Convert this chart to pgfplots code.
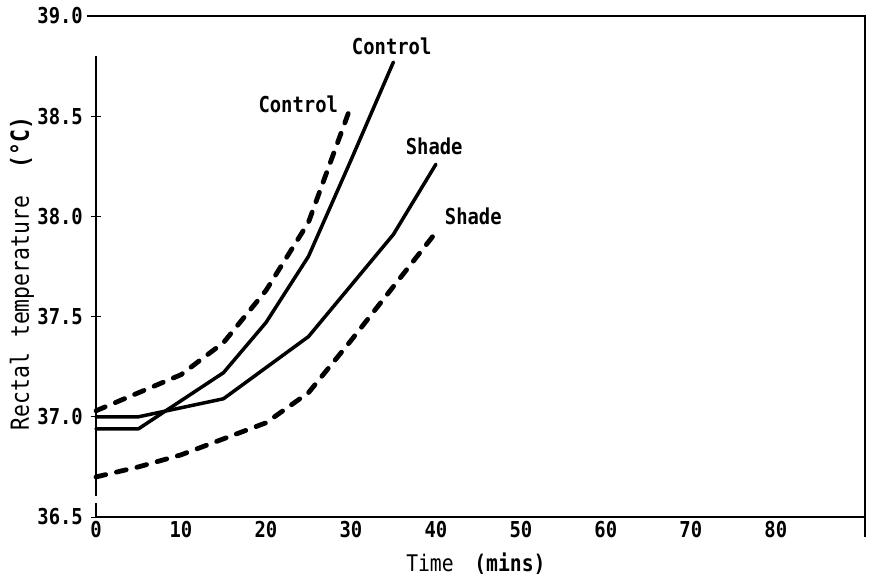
\documentclass[border=0pt]{standalone}
\usepackage{pgfplots}
\pgfplotsset{compat=1.18}
\usepackage{fontspec}
\setmainfont{DejaVu Sans Mono}[FakeStretch=0.86]
\newcommand{\fs}{\fontsize{22}{24}\selectfont}
\begin{document}
\begin{tikzpicture}
\begin{axis}[
  scale only axis, width=769bp, height=501bp,
  xmin=0, xmax=90.5, ymin=36.5, ymax=39,
  clip=false,
  axis x line=bottom, axis y line=left,
  axis line style={-},
  x axis line style={line width=1.8bp},
  y axis line style={draw=none},
  xtick={0,10,20,30,40,50,60,70,80},
  xticklabels={0,10,20,30,40,50,60,70,80},
  ytick={36.5,37,37.5,38,38.5,39},
  yticklabels={36.5,37.0,37.5,38.0,38.5,39.0},
  ticklabel style={font=\fs\bfseries},
  yticklabel style={inner sep=0pt, anchor=east, xshift=-8bp},
  xticklabel style={inner sep=0pt, anchor=north, yshift=1bp},
  ytick align=center,
  xtick style={draw=none},
  ytick style={line width=1bp, black},
  major tick length=10bp,
  every axis y label/.style={at={(axis description cs:-0.0962,0.486)}, rotate=90, anchor=center, font=\fontsize{25}{27}\selectfont},
  every axis x label/.style={at={(axis description cs:0.494,-0.094)}, anchor=center, font=\fontsize{23}{25}\selectfont},
  ylabel={Rectal\hspace{0.6em}temperature\hspace{1.1em}\textbf{(°C)}},
  xlabel={Time\hspace{0.9em}\textbf{(mins)}},
]
% Control, solid
\addplot[black, line width=3.5bp, line cap=round, line join=round] coordinates {
  (0,36.94) (5,36.94) (15,37.22) (20,37.47) (25,37.8) (30,38.28) (35,38.77)};
% Shade, solid
\addplot[black, line width=3.5bp, line cap=round, line join=round] coordinates {
  (0,37.0) (5,37.0) (15,37.09) (25,37.4) (35,37.91) (40,38.26)};
% Control, dashed
\addplot[black, line width=4.8bp, line cap=round, dash pattern=on 10bp off 11bp] coordinates {
  (0,37.03) (5,37.12) (10,37.21) (15,37.37) (20,37.63) (25,37.97) (30,38.55)};
% Shade, dashed
\addplot[black, line width=4.8bp, line cap=round, dash pattern=on 10bp off 11bp] coordinates {
  (0,36.70) (5,36.75) (10,36.81) (15,36.89) (20,36.97) (25,37.12) (30,37.38) (35,37.65) (40,37.92)};

\node[font=\fs\bfseries] at (axis cs:34.8,38.85) {Control};
\node[font=\fs\bfseries] at (axis cs:23.8,38.56) {Control};
\node[font=\fs\bfseries] at (axis cs:39.8,38.35) {Shade};
\node[font=\fs\bfseries] at (axis cs:44.4,38.0) {Shade};

% frame lines
\draw[line width=1.2bp] (axis cs:0,38.8) -- (axis cs:0,36.605);
\draw[line width=2bp] (axis cs:0,36.57) -- (axis cs:0,36.5);
\draw[line width=1.8bp] (axis cs:-1.06,39) -- (axis cs:90.5,39) -- (axis cs:90.5,36.4);
\end{axis}
\pgfresetboundingbox
\path (-96bp,-66bp) rectangle (774bp,517bp);
\end{tikzpicture}
\end{document}
